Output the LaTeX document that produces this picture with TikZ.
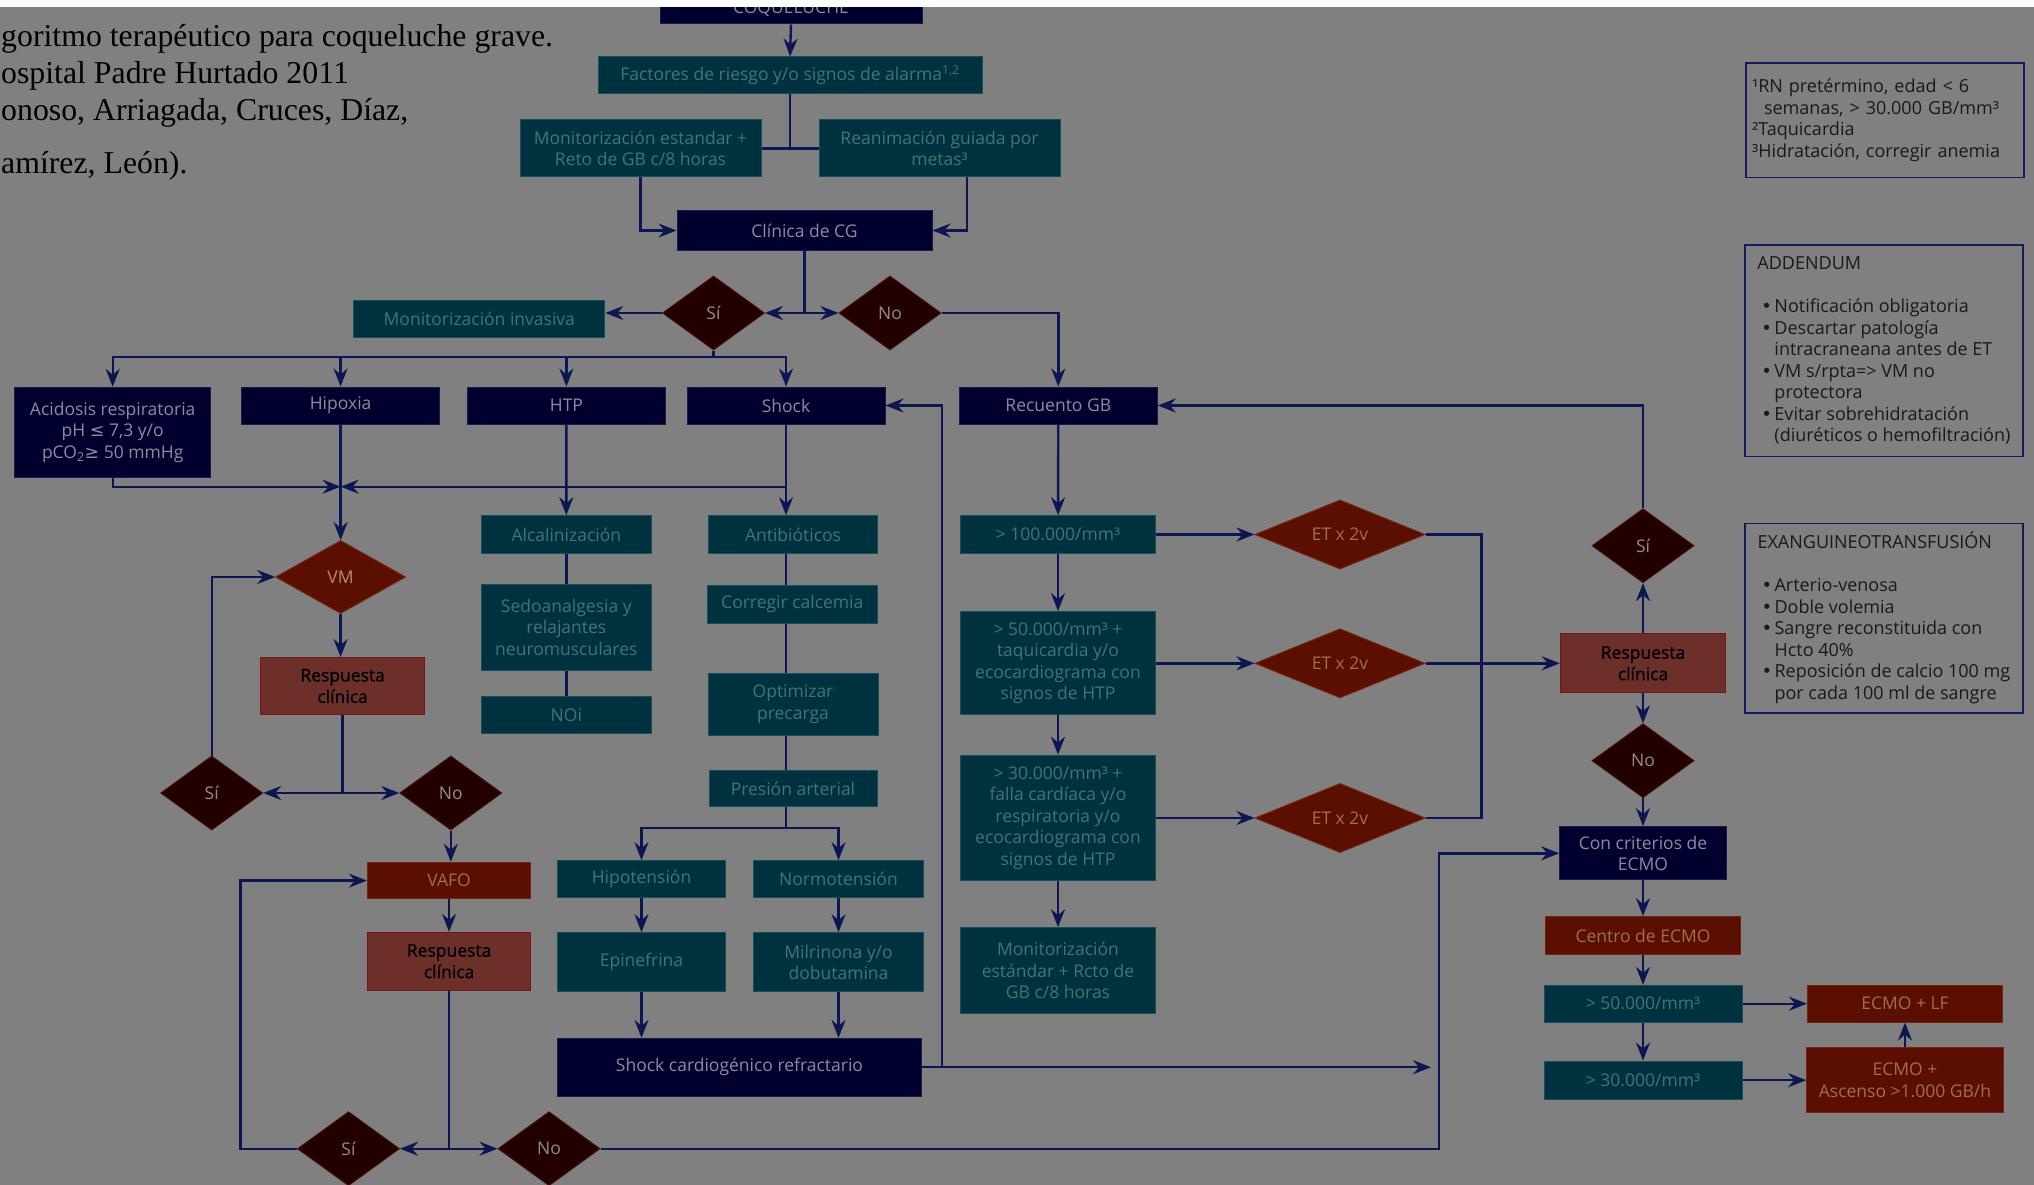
\documentclass[tikz,border=0pt]{standalone}
\usepackage{fontspec}
\setmainfont{Liberation Serif}
\newfontfamily\boxfont{Open Sans}
\newfontfamily\respfont[FakeBold=1]{Open Sans}
\newfontfamily\dvsfont{DejaVu Sans}
\usepackage{xcolor}
\usetikzlibrary{arrows.meta}
\usetikzlibrary{shapes.geometric}
\definecolor{bg}{RGB}{128,128,128}
\definecolor{wirecol}{RGB}{12,22,82}
\definecolor{nfill}{RGB}{0,0,46}
\definecolor{nedge}{RGB}{25,25,78}
\definecolor{ntext}{RGB}{140,140,160}
\definecolor{tfill}{RGB}{0,49,62}
\definecolor{tedge}{RGB}{20,80,90}
\definecolor{ttext}{RGB}{66,116,122}
\definecolor{rfill}{RGB}{90,15,0}
\definecolor{redge}{RGB}{115,35,15}
\definecolor{rtext}{RGB}{160,112,72}
\definecolor{bfill}{RGB}{108,47,42}
\definecolor{bedge}{RGB}{120,22,22}
\definecolor{dfill}{RGB}{34,0,0}
\definecolor{dedge}{RGB}{70,15,10}
\definecolor{dtext}{RGB}{150,138,138}
\definecolor{legedge}{RGB}{18,28,90}
\newcommand{\legbul}{\hspace*{4pt}\makebox[13pt][l]{{\dvsfont •}}}
\newcommand{\legind}{\hspace*{17pt}}
\tikzset{
  wire/.style={draw=wirecol, line width=2.4pt},
  arr/.style={wire, -{Stealth[length=18pt, width=14pt, inset=6pt]}},
  box/.style 2 args={rectangle, inner sep=0pt, line width=1pt, align=center,
    minimum width=#1pt, minimum height=#2pt,
    font=\boxfont\fontsize{17.5}{21.5}\selectfont},
  navybox/.style 2 args={box={#1}{#2}, fill=nfill, draw=nedge, text=ntext},
  tealbox/.style 2 args={box={#1}{#2}, fill=tfill, draw=tedge, text=ttext},
  redbox/.style 2 args={box={#1}{#2}, fill=rfill, draw=redge, text=rtext},
  respbox/.style 2 args={box={#1}{#2}, fill=bfill, draw=bedge, text=black,
    font=\respfont\fontsize{17.5}{21.5}\selectfont},
  dec/.style={diamond, inner sep=0pt, line width=1pt, minimum width=102pt,
    minimum height=74pt, fill=dfill, draw=dedge, text=dtext,
    font=\boxfont\fontsize{17.5}{21.5}\selectfont},
  etdec/.style={dec, minimum width=170pt, minimum height=67pt, fill=rfill,
    draw=redge, text=rtext},
  legbox/.style 2 args={rectangle, draw=legedge, line width=1.6pt,
    minimum width=#1pt, minimum height=#2pt, inner sep=0pt, align=left,
    font=\boxfont\fontsize{18}{21.5}\selectfont, text=black!90},
  ttl/.style={anchor=base west, inner sep=0pt, text=black,
    font=\fontsize{31.8}{36}\selectfont}
}
\begin{document}
\begin{tikzpicture}[x=1pt, y=-1pt]

\useasboundingbox (0,0) rectangle (2034,1185);
\fill[bg] (0,0) rectangle (2034,1185);

%title:
\node[ttl] (t1) at (1,47) {goritmo terapéutico para coqueluche grave.};
\node[ttl] (t2) at (1,84) {ospital Padre Hurtado 2011};
\node[ttl] (t3) at (1,121) {onoso, Arriagada, Cruces, Díaz,};
\node[ttl] (t4) at (1,174) {amírez, León).};

%top of the chart
\node[navybox={262}{30}] (coq) at (791,9) {COQUELUCHE};
\node[tealbox={384}{37}] (fact) at (790,75.5) {Factores de riesgo y/o signos de alarma\textsuperscript{1,2}};
\node[tealbox={241}{57}] (mest) at (640.5,148.5) {Monitorización estandar +\\Reto de GB c/8 horas};
\node[tealbox={241}{57}] (rean) at (939.5,148.5) {Reanimación guiada por\\metas³};
\node[navybox={255}{39}] (cg) at (804.5,230.5) {Clínica de CG};
\node[dec] (si1) at (713.5,313) {Sí};
\node[dec] (no1) at (890,313) {No};
\node[tealbox={251}{37}] (minv) at (479.3,319) {Monitorización invasiva};

%second row
\node[navybox={196}{90}] (acid) at (112.7,432.3) {Acidosis respiratoria\\pH {\dvsfont ≤} 7,3 y/o\\pCO\textsubscript{2}{\dvsfont ≥} 50 mmHg};
\node[navybox={198}{37}] (hipox) at (340.6,405.5) {Hipoxia};
\node[navybox={198}{37}] (htp) at (566.4,405.5) {HTP};
\node[navybox={198}{37}] (shock) at (786,405.5) {Shock};
\node[navybox={198}{37}] (rgb) at (1058.3,405.5) {Recuento GB};

%HTP and shock columns
\node[tealbox={170}{37.6}] (alc) at (566.3,534.5) {Alcalinización};
\node[tealbox={170}{85.7}] (sedo) at (566.3,627.2) {Sedoanalgesia y\\relajantes\\neuromusculares};
\node[tealbox={170}{36.6}] (noi) at (566.3,715) {NOi};
\node[tealbox={168.6}{37.6}] (anti) at (793,534.5) {Antibióticos};
\node[tealbox={170}{38.3}] (calc) at (792.3,604.2) {Corregir calcemia};
\node[tealbox={170}{61.7}] (opt) at (793,704.2) {Optimizar\\precarga};
\node[tealbox={168}{36}] (pres) at (793,788.5) {Presión arterial};
\node[tealbox={168.4}{36.6}] (hipo) at (641.5,879) {Hipotensión};
\node[tealbox={169.6}{36.6}] (normo) at (838.5,879) {Normotensión};
\node[tealbox={168.4}{59}] (epi) at (641.5,962.2) {Epinefrina};
\node[tealbox={169.6}{59}] (milr) at (838.5,962.2) {Milrinona y/o\\dobutamina};
\node[navybox={364.4}{57.7}] (scr) at (739.5,1067.2) {Shock cardiogénico refractario};

%ventilation loop
\node[etdec, minimum width=130pt, minimum height=73pt, text=rtext!80!white] (vm) at (340.6,577) {VM};
\node[respbox={164}{57}] (resp1) at (342.6,686) {Respuesta\\clínica};
\node[dec] (si2) at (211.7,793) {Sí};
\node[dec] (no2) at (450.8,793) {No};
\node[redbox={163.4}{36.7}] (vafo) at (449.1,880.6) {VAFO};
\node[respbox={163.4}{57.7}] (resp2) at (449.1,961.2) {Respuesta\\clínica};
\node[dec] (si3) at (348.5,1148.7) {Sí};
\node[dec] (no3) at (549,1148.7) {No};

%white cell count
\node[tealbox={195}{37.6}] (g100) at (1058,534.5) {> 100.000/mm³};
\node[tealbox={195}{103.3}] (g50) at (1058,663.3) {> 50.000/mm³ +\\taquicardia y/o\\ecocardiograma con\\signos de HTP};
\node[tealbox={195}{125.8}] (g30) at (1058,818) {> 30.000/mm³ +\\falla cardíaca y/o\\respiratoria y/o\\ecocardiograma con\\signos de HTP};
\node[tealbox={195}{85.6}] (mrc) at (1058,970.5) {Monitorización\\estándar + Rcto de\\GB c/8 horas};
\node[etdec] (et1) at (1340,534.5) {ET x 2v};
\node[etdec] (et2) at (1340,663.3) {ET x 2v};
\node[etdec] (et3) at (1340,818) {ET x 2v};
\node[respbox={165.4}{58.7}] (resp3) at (1643,663.3) {Respuesta\\clínica};
\node[dec] (si4) at (1643,545.7) {Sí};
\node[dec] (no4) at (1643,760.7) {No};

%ECMO
\node[navybox={166.5}{53.3}] (crit) at (1643,853.3) {Con criterios de\\ECMO};
\node[redbox={195}{38.3}] (cent) at (1643,935.8) {Centro de ECMO};
\node[tealbox={198}{36.7}] (e50) at (1643,1003.7) {> 50.000/mm³};
\node[tealbox={198}{38.3}] (e30) at (1643,1080.2) {> 30.000/mm³};
\node[redbox={195}{36.7}] (elf) at (1905,1003.7) {ECMO + LF};
\node[redbox={196.6}{65}] (easc) at (1905,1080.2) {ECMO +\\Ascenso >1.000 GB/h};

%legends
\node[legbox={278}{114.4}, text width=266pt] (fn) at (1885,120.5) {¹RN pretérmino, edad < 6\\\hspace*{12pt}semanas, > 30.000 GB/mm³\\²Taquicardia\\³Hidratación, corregir anemia};
\node[legbox={277.7}{211.6}] (add) at (1883.9,350.8) {ADDENDUM\\[21.5pt]\legbul Notificación obligatoria\\\legbul Descartar patología\\\legind intracraneana antes de ET\\\legbul VM s/rpta=> VM no\\\legind protectora\\\legbul Evitar sobrehidratación\\\legind (diuréticos o hemofiltración)};
\node[legbox={277.7}{189.4}] (exs) at (1883.9,618) {EXANGUINEOTRANSFUSIÓN\\[21.5pt]\legbul Arterio-venosa\\\legbul Doble volemia\\\legbul Sangre reconstituida con\\\legind Hcto 40\%\\\legbul Reposición de calcio 100 mg\\\legind por cada 100 ml de sangre};

%connectors, top
\draw[arr] (coq.south) -- (fact.north);
\draw[wire] (fact.south) -- (fact.south |- mest.east);
\draw[wire] (mest.east) -- (rean.west);
\draw[arr] (mest.south) |- (cg.west);
\draw[arr] ([xshift=27.5pt]rean.south) |- (cg.east);
\draw[arr] (cg.south) |- (si1.east);
\draw[arr] (cg.south) |- (no1.west);
\draw[arr] (si1.west) -- (minv.east |- si1.west);
\draw[arr] (no1.east) -| (rgb.north);

%bus to the four problems
\coordinate (bus) at (0,357);
\draw[arr] (si1.south) -- (si1.south |- bus) -| (shock.north);
\draw[arr] (si1.south |- bus) -| (acid.north);
\draw[arr] (hipox.north |- bus) -- (hipox.north);
\draw[arr] (htp.north |- bus) -- (htp.north);

%into VM
\coordinate (mg) at (340.6,486.7);
\draw[arr] (acid.south) |- (mg);
\draw[arr] (mg -| shock.south) -- (mg);
\draw[arr] (hipox.south) -- (vm.north);

%HTP and shock
\draw[arr] (htp.south) -- (alc.north);
\draw[wire] (alc) -- (sedo);
\draw[wire] (sedo) -- (noi);
\draw[arr] (shock.south) -- (shock.south |- anti.north);
\foreach \a/\b in {anti/calc, calc/opt, opt/pres}
  \draw[wire] (\a.south -| shock.south) -- (\b.north -| shock.south);
\coordinate (pj) at (786,827.7);
\draw[wire] (pres.south -| pj) -- (pj);
\draw[arr] (pj) -| (hipo.north);
\draw[arr] (pj) -| (normo.north);
\draw[arr] (hipo) -- (epi);
\draw[arr] (normo) -- (milr);
\draw[arr] (epi.south) -- (epi.south |- scr.north);
\draw[arr] (milr.south) -- (milr.south |- scr.north);
\coordinate (lp) at (942,1067.2);
\coordinate (vx) at (1439,1148.7);
\draw[arr] (scr.east) -- ([xshift=-8pt]scr.east -| vx);
\draw[arr] (lp) |- (shock.east);

%ventilation loop
\draw[arr] (si2.north) |- (vm.west);
\draw[arr] (vm.south) -- (vm.south |- resp1.north);
\draw[arr] (resp1.south) |- (si2.east);
\draw[arr] (resp1.south) |- (no2.west);
\draw[arr] (no2.south) -- (no2.south |- vafo.north);
\draw[arr] (vafo) -- (resp2);
\draw[arr] (resp2.south) |- (si3.east);
\draw[arr] (resp2.south) |- (no3.west);
\draw[arr] (si3.west) -- ++(-56.6,0) |- (vafo.west);
\draw[arr] (no3.east) -- (vx) |- (crit.west);

%white cell count
\draw[arr] (rgb) -- (g100);
\draw[arr] (g100) -- (g50);
\draw[arr] (g50) -- (g30);
\draw[arr] (g30) -- (mrc);
\draw[arr] (g100) -- (et1);
\draw[arr] (g50) -- (et2);
\draw[arr] (g30) -- (et3);
\draw[wire] (et1.east) -- ++(56,0) |- (et3.east);
\draw[arr] (et2) -- (resp3);
\draw[arr] (resp3) -- (si4);
\draw[arr] (resp3) -- (no4);
\draw[arr] (no4) -- (crit);
\draw[arr] (si4.north) |- (rgb.east);

%ECMO
\draw[arr] (crit) -- (cent);
\draw[arr] (cent) -- (e50);
\draw[arr] (e50) -- (e30);
\draw[arr] (e50) -- (elf);
\draw[arr] (e30) -- (easc);
\draw[arr] (easc) -- (elf);

%white strip at the top
\fill[white] (0,0) rectangle (2034,7.5);

\end{tikzpicture}
\end{document}
